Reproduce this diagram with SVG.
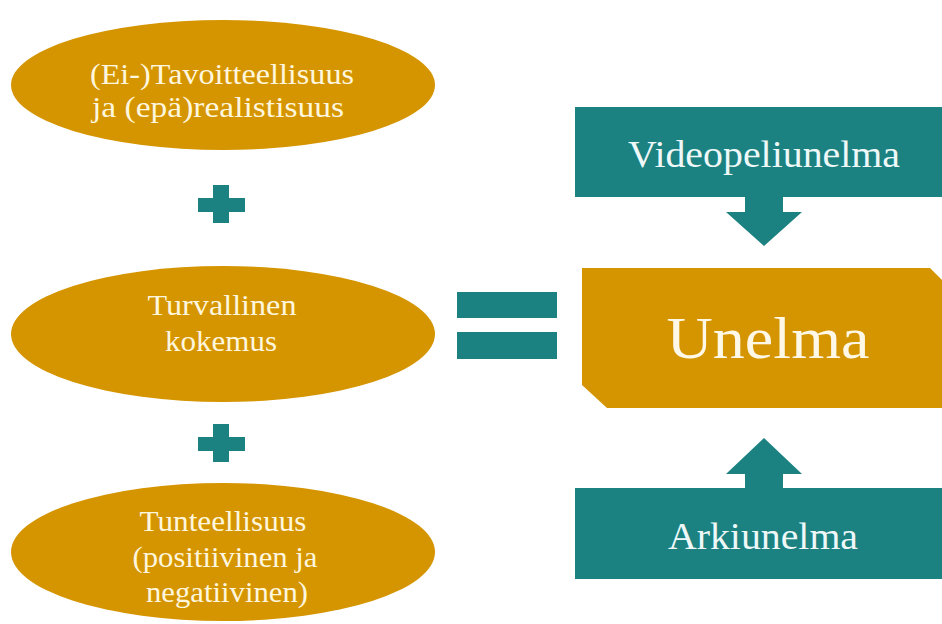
<svg xmlns="http://www.w3.org/2000/svg" width="942" height="624" viewBox="0 0 942 624">
  <style>
    .gold { fill: #D59500; }
    .teal { fill: #1B8181; }
    .t { font-family: "Liberation Serif", "Times New Roman", serif; text-anchor: middle; }
    .tg { fill: #FFF6DE; font-size: 30px; }
    .tt { fill: #EEF8F8; font-size: 38px; }
    .big { fill: #FFF8E6; font-size: 60px; }
  </style>
  <rect width="942" height="624" fill="#FFFFFF"/>

  <!-- left column: three ingredients -->
  <g id="tavoitteellisuus">
    <ellipse class="gold" cx="223" cy="85" rx="212" ry="65"/>
    <text class="t tg" x="222" y="84" textLength="264" lengthAdjust="spacingAndGlyphs">(Ei-)Tavoitteellisuus</text>
    <text class="t tg" x="218" y="117" textLength="252" lengthAdjust="spacingAndGlyphs">ja (epä)realistisuus</text>
  </g>

  <g id="turvallinen">
    <ellipse class="gold" cx="223" cy="334" rx="212" ry="68"/>
    <text class="t tg" x="222" y="315" textLength="149" lengthAdjust="spacingAndGlyphs">Turvallinen</text>
    <text class="t tg" x="221" y="351" textLength="112" lengthAdjust="spacingAndGlyphs">kokemus</text>
  </g>

  <g id="tunteellisuus">
    <ellipse class="gold" cx="223" cy="552" rx="212" ry="69"/>
    <text class="t tg" x="223" y="531" textLength="167" lengthAdjust="spacingAndGlyphs">Tunteellisuus</text>
    <text class="t tg" x="225" y="567" textLength="185" lengthAdjust="spacingAndGlyphs">(positiivinen ja</text>
    <text class="t tg" x="227" y="602" textLength="162" lengthAdjust="spacingAndGlyphs">negatiivinen)</text>
  </g>

  <!-- operators -->
  <g id="connectors">
    <path class="teal" d="M213,185 H229 V198 H245 V212 H229 V223 H213 V212 H198 V198 H213 Z"/>
    <path class="teal" d="M213,424 H229 V437 H245 V451 H229 V462 H213 V451 H198 V437 H213 Z"/>
    <rect class="teal" x="457" y="292" width="100" height="26"/>
    <rect class="teal" x="457" y="332" width="100" height="27"/>
    <!-- arrow into the result from above -->
    <path class="teal" d="M745,197 H783 V212 H802 L764,246 L726,212 H745 Z"/>
    <!-- arrow into the result from below -->
    <path class="teal" d="M764,438 L802,474 H783 V488 H745 V474 H726 Z"/>
  </g>

  <!-- right column -->
  <g id="videopeliunelma">
    <rect class="teal" x="575" y="107" width="367" height="90"/>
    <text class="t tt" x="764" y="167" textLength="272" lengthAdjust="spacingAndGlyphs">Videopeliunelma</text>
  </g>

  <g id="unelma">
    <path class="gold" d="M582,268 H930 L942,280 V408 H607 L582,385 Z"/>
    <text class="t big" x="768" y="358" textLength="203" lengthAdjust="spacingAndGlyphs">Unelma</text>
  </g>

  <g id="arkiunelma">
    <rect class="teal" x="575" y="488" width="367" height="91"/>
    <text class="t tt" x="763" y="549" textLength="190" lengthAdjust="spacingAndGlyphs">Arkiunelma</text>
  </g>
</svg>
